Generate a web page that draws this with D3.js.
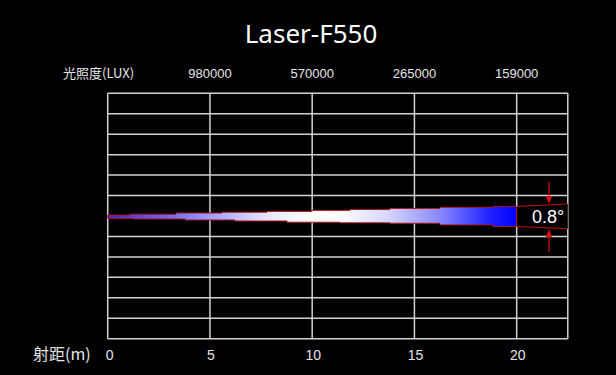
<!DOCTYPE html>
<html><head><meta charset="utf-8">
<script src="https://cdn.jsdelivr.net/npm/d3@7"></script>
<style>html,body{margin:0;padding:0;background:#000;}svg{display:block;}</style>
</head><body><div id="chart"></div>
<script>
// ---- data ----
const title = "Laser-F550";
const distanceTicks = [0, 5, 10, 15, 20];
const gridX = [0, 5, 10, 15, 20, 22.5];
const gridY = [-6,-5,-4,-3,-2,-1,0,1,2,3,4,5,6];
const luxDistances = [5, 10, 15, 20];
const luxValues = ["980000", "570000", "265000", "159000"];
const luxLabel = "光照度(LUX)";
const distLabel = "射距(m)";
// beam edges (distance m, offset in grid rows), stepped
const beamTopX = [0, 1.09, 3.34, 5.59, 7.79, 9.99, 11.85, 13.8, 16.25, 18.84, 20];
const beamTopY = [0.07, 0.11, 0.17, 0.21, 0.25, 0.30, 0.34, 0.39, 0.45, 0.49, 0.49];
const beamBotX = [0, 1.24, 3.79, 6.22, 8.77, 11.36, 13.8, 16.25, 18.84, 20];
const beamBotY = [-0.09, -0.12, -0.17, -0.22, -0.28, -0.31, -0.33, -0.41, -0.49, -0.49];
const beamEnd = 20;
const guideEnd = 22.5;
const guideTop = [0.49, 0.61];
const guideBot = [-0.49, -0.60];
const angleLabel = "0.8°";

// ---- layout ----
const W = 616, H = 375;
const svg = d3.select("#chart").append("svg").attr("width", W).attr("height", H);
svg.append("rect").attr("width", W).attr("height", H).attr("fill", "#000");

const x = d3.scaleLinear().domain([0, 22.5]).range([107.7, 567.8]);
const y = d3.scaleLinear().domain([-6, 6]).range([338.7, 93.3]);
const yc = v => y(v) + 0.5;

// grid
const g = svg.append("g");
g.selectAll("line.v").data(gridX).enter().append("line")
  .attr("x1", d => x(d)).attr("x2", d => x(d)).attr("y1", y(6)).attr("y2", y(-6))
  .attr("stroke", "#d2d2d2").attr("stroke-width", 1.5);
g.selectAll("line.h").data(gridY).enter().append("line")
  .attr("x1", x(0)).attr("x2", x(22.5)).attr("y1", d => y(d)).attr("y2", d => y(d))
  .attr("stroke", "#d2d2d2").attr("stroke-width", 1.5);

// gradient
const defs = svg.append("defs");
const grad = defs.append("linearGradient").attr("id", "beamGrad")
  .attr("gradientUnits", "userSpaceOnUse")
  .attr("x1", x(0)).attr("x2", x(beamEnd)).attr("y1", 0).attr("y2", 0);
[[0, "#4a22c8"], [0.16, "#7070f0"], [0.27, "#a8a8ff"], [0.38, "#e2e2ff"], [0.49, "#ffffff"],
 [0.57, "#fcfcff"], [0.68, "#d8d8ff"], [0.81, "#8a8aff"], [0.93, "#2424ff"], [1, "#0000ff"]]
 .forEach(s => grad.append("stop").attr("offset", s[0]).attr("stop-color", s[1]));

// black box behind label, between guides
const boxPts = [[beamEnd, guideTop[0]], [guideEnd, guideTop[1]], [guideEnd, guideBot[1]], [beamEnd, guideBot[0]]];
svg.append("path").attr("d", d3.line().x(d => x(d[0])).y(d => yc(d[1]))(boxPts) + "Z")
  .attr("fill", "#000");

// beam polygon
function stepPts(xs, ys, endX) {
  const pts = [];
  for (let i = 0; i < ys.length; i++) {
    const x0 = xs[i], x1 = i + 1 < xs.length ? xs[i + 1] : endX;
    pts.push([x0, ys[i]], [x1, ys[i]]);
  }
  return pts;
}
const topPts = stepPts(beamTopX.slice(0, -1), beamTopY.slice(0, -1), beamEnd);
const botPts = stepPts(beamBotX.slice(0, -1), beamBotY.slice(0, -1), beamEnd).reverse();
const poly = topPts.concat(botPts);
svg.append("path").attr("d", d3.line().x(d => x(d[0])).y(d => yc(d[1]))(poly) + "Z")
  .attr("fill", "url(#beamGrad)").attr("stroke", "#b01818").attr("stroke-width", 1);

// guide lines
svg.append("line").attr("x1", x(beamEnd)).attr("x2", x(guideEnd)).attr("y1", yc(guideTop[0])).attr("y2", yc(guideTop[1]))
  .attr("stroke", "#c01010").attr("stroke-width", 1.2);
svg.append("line").attr("x1", x(beamEnd)).attr("x2", x(guideEnd)).attr("y1", yc(guideBot[0])).attr("y2", yc(guideBot[1]))
  .attr("stroke", "#c01010").attr("stroke-width", 1.2);

// arrows
const ax = 549;
const tTop = 204, tBot = 229;
svg.append("line").attr("x1", ax).attr("x2", ax).attr("y1", 182).attr("y2", tTop - 4).attr("stroke", "#e01010").attr("stroke-width", 1.2);
svg.append("path").attr("d", `M${ax-3},${tTop-8}L${ax+3},${tTop-8}L${ax},${tTop}Z`).attr("fill", "#e01010");
svg.append("line").attr("x1", ax).attr("x2", ax).attr("y1", tBot + 4).attr("y2", 252).attr("stroke", "#e01010").attr("stroke-width", 1.2);
svg.append("path").attr("d", `M${ax-3},${tBot+8}L${ax+3},${tBot+8}L${ax},${tBot}Z`).attr("fill", "#e01010");

svg.append("text").attr("x", 548).attr("y", 223).attr("text-anchor", "middle")
  .attr("font-family", "Liberation Sans, Arial, sans-serif").attr("font-size", 18)
  .attr("fill", "#fff").text(angleLabel);

// title
svg.append("text").attr("x", 311).attr("y", 43).attr("text-anchor", "middle")
  .attr("font-family", "Noto Sans, sans-serif").attr("font-size", 26)
  .attr("fill", "#fff").text(title);

// lux labels
svg.append("text").attr("x", 63).attr("y", 78)
  .attr("font-family", "Noto Sans CJK SC, sans-serif").attr("font-size", 13)
  .attr("fill", "#e6e6e6").text(luxLabel);
svg.selectAll("text.lux").data(luxValues).enter().append("text")
  .attr("x", (d, i) => x(luxDistances[i])).attr("y", 78).attr("text-anchor", "middle")
  .attr("font-family", "Liberation Sans, Arial, sans-serif").attr("font-size", 13)
  .attr("fill", "#e6e6e6").text(d => d);

// distance labels
svg.append("text").attr("x", 33).attr("y", 360)
  .attr("font-family", "Noto Sans CJK SC, sans-serif").attr("font-size", 16)
  .attr("fill", "#e6e6e6").text(distLabel);
svg.selectAll("text.dist").data(distanceTicks).enter().append("text")
  .attr("x", d => x(d) + (d === 0 ? 2 : 1)).attr("y", 360).attr("text-anchor", "middle")
  .attr("font-family", "Liberation Sans, Arial, sans-serif").attr("font-size", 14)
  .attr("fill", "#e6e6e6").text(d => d);
</script></body></html>
